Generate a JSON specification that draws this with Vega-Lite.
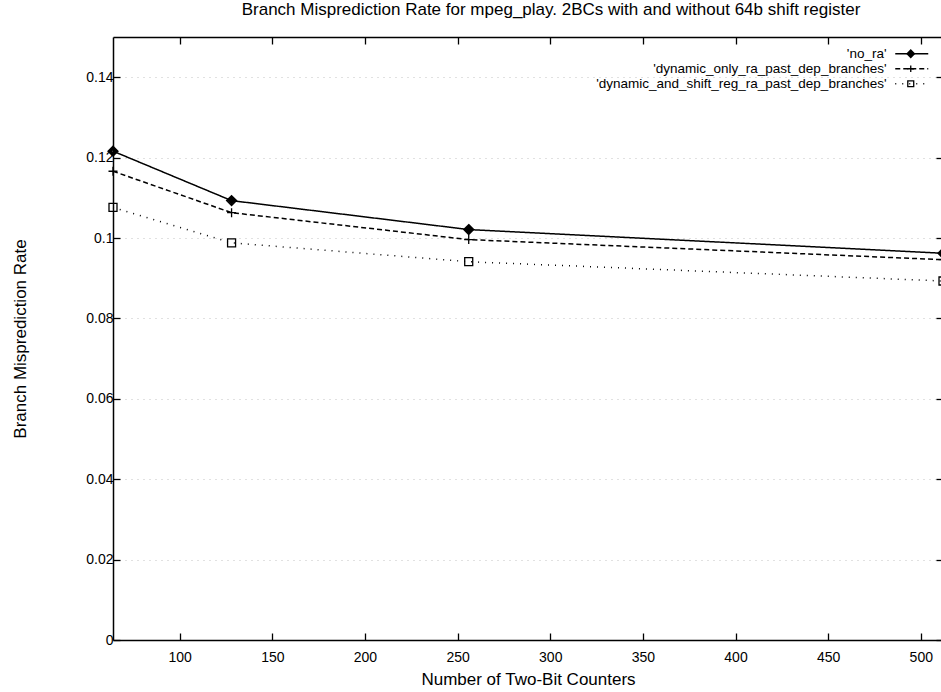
{
  "$schema": "https://vega.github.io/schema/vega-lite/v6.json",
  "width": 830,
  "height": 603,
  "autosize": {"type": "none"},
  "padding": {"left": 113, "top": 37, "right": 0, "bottom": 52},
  "background": "white",
  "config": {
    "font": "Liberation Sans",
    "view": {"stroke": null},
    "axis": {
      "domainColor": "black", "domainWidth": 1.5,
      "tickColor": "black", "tickWidth": 1.3, "tickSize": -7,
      "labelColor": "black", "labelFontSize": 14, "labelFont": "Liberation Sans",
      "titleColor": "black", "titleFontSize": 17, "titleFontWeight": "normal", "titleFont": "Liberation Sans",
      "grid": false
    },
    "legend": {"padding": 0}
  },
  "title": {
    "text": "Branch Misprediction Rate for mpeg_play. 2BCs with and without 64b shift register",
    "fontSize": 17, "fontWeight": "normal", "color": "black", "font": "Liberation Sans",
    "anchor": "middle", "dx": 23, "offset": 17
  },
  "data": {
    "values": [
      {"series": "'no_ra'", "counters": 64, "rate": 0.1216},
      {"series": "'no_ra'", "counters": 128, "rate": 0.1093},
      {"series": "'no_ra'", "counters": 256, "rate": 0.1021},
      {"series": "'no_ra'", "counters": 512, "rate": 0.0962},
      {"series": "'dynamic_only_ra_past_dep_branches'", "counters": 64, "rate": 0.1166},
      {"series": "'dynamic_only_ra_past_dep_branches'", "counters": 128, "rate": 0.1063},
      {"series": "'dynamic_only_ra_past_dep_branches'", "counters": 256, "rate": 0.0996},
      {"series": "'dynamic_only_ra_past_dep_branches'", "counters": 512, "rate": 0.0946},
      {"series": "'dynamic_and_shift_reg_ra_past_dep_branches'", "counters": 64, "rate": 0.1076},
      {"series": "'dynamic_and_shift_reg_ra_past_dep_branches'", "counters": 128, "rate": 0.0988},
      {"series": "'dynamic_and_shift_reg_ra_past_dep_branches'", "counters": 256, "rate": 0.0941},
      {"series": "'dynamic_and_shift_reg_ra_past_dep_branches'", "counters": 512, "rate": 0.0893}
    ]
  },
  "layer": [
    {
      "mark": {"type": "line", "color": "black", "strokeWidth": 1.5},
      "encoding": {
        "x": {
          "field": "counters", "type": "quantitative",
          "scale": {"domain": [64, 512], "nice": false, "zero": false},
          "axis": {"values": [100, 150, 200, 250, 300, 350, 400, 450, 500], "title": "Number of Two-Bit Counters", "labelPadding": 17, "titlePadding": 7}
        },
        "y": {
          "field": "rate", "type": "quantitative",
          "scale": {"domain": [0, 0.15], "nice": false},
          "axis": {"values": [0, 0.02, 0.04, 0.06, 0.08, 0.1, 0.12, 0.14], "format": "~g", "title": "Branch Misprediction Rate", "labelPadding": 7, "titlePadding": 56,
                   "grid": true, "gridColor": "#aaaaaa", "gridDash": [1, 5], "gridOpacity": 0.7, "gridWidth": 1}
        },
        "strokeDash": {
          "field": "series", "type": "nominal",
          "scale": {
            "domain": ["'no_ra'", "'dynamic_only_ra_past_dep_branches'", "'dynamic_and_shift_reg_ra_past_dep_branches'"],
            "range": [[1, 0], [5, 3], [1, 6]]
          },
          "legend": {
            "orient": "none", "legendX": 792, "legendY": 10, "title": null,
            "symbolType": "M-3,0H3", "symbolSize": 121, "symbolStrokeColor": "black", "symbolStrokeWidth": 1.3, "symbolOpacity": 1,
            "labelAlign": "right", "labelOffset": -32, "labelFontSize": 13.5, "labelColor": "black", "labelLimit": 700,
            "rowPadding": 0
          }
        }
      }
    },
    {
      "mark": {"type": "point", "color": "black", "filled": false, "strokeWidth": 1.3, "opacity": 1, "size": 100},
      "encoding": {
        "x": {"field": "counters", "type": "quantitative", "axis": null},
        "y": {"field": "rate", "type": "quantitative", "axis": null},
        "shape": {
          "field": "series", "type": "nominal",
          "sort": ["'no_ra'", "'dynamic_only_ra_past_dep_branches'", "'dynamic_and_shift_reg_ra_past_dep_branches'"],
          "scale": {"range": [
            "M0,-1L1,0L0,1L-1,0Z M0,-0.66L0.66,0L0,0.66L-0.66,0Z M0,-0.33L0.33,0L0,0.33L-0.33,0Z",
            "M-0.9,0H0.9M0,-0.9V0.9",
            "M-0.8,-0.8H0.8V0.8H-0.8Z"
          ]},
          "legend": {
            "orient": "none", "legendX": 791, "legendY": 10, "title": null,
            "symbolSize": 55, "symbolStrokeColor": "black", "symbolStrokeWidth": 1.3, "symbolFillColor": "transparent",
            "labelOpacity": 0, "labelFontSize": 13.5, "labelLimit": 700,
            "rowPadding": 0
          }
        }
      }
    },
    {
      "mark": {"type": "line", "opacity": 0},
      "encoding": {
        "x": {"field": "counters", "type": "quantitative", "axis": {"orient": "top", "values": [100, 150, 200, 250, 300, 350, 400, 450, 500], "labels": false, "title": null}},
        "y": {"field": "rate", "type": "quantitative", "axis": {"orient": "right", "values": [0, 0.02, 0.04, 0.06, 0.08, 0.1, 0.12, 0.14], "labels": false, "title": null}}
      }
    }
  ],
  "resolve": {"axis": {"x": "independent", "y": "independent"}}
}
